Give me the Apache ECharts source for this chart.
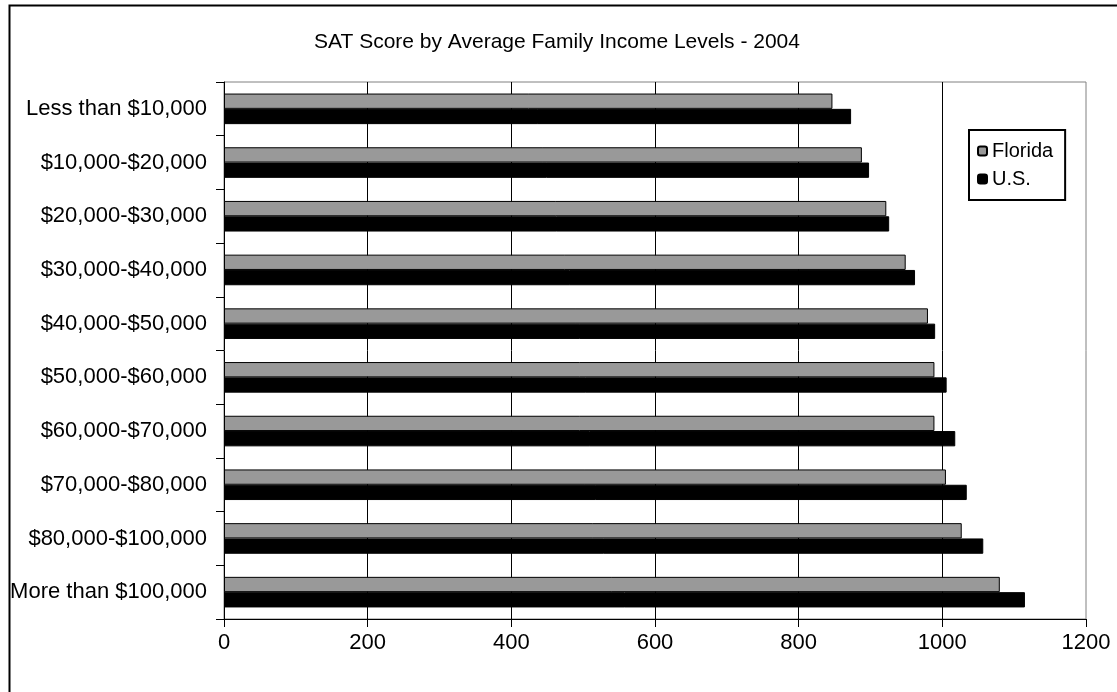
<!DOCTYPE html>
<html>
<head>
<meta charset="utf-8">
<script src="https://cdn.jsdelivr.net/npm/echarts@6/dist/echarts.min.js"></script>
<style>
html,body{margin:0;padding:0;background:#fff;}
#chart{width:1117px;height:692px;}
</style>
</head>
<body>
<div id="chart"></div>
<script>
const categories = ["Less than $10,000","$10,000-$20,000","$20,000-$30,000","$30,000-$40,000","$40,000-$50,000","$50,000-$60,000","$60,000-$70,000","$70,000-$80,000","$80,000-$100,000","More than $100,000"];
const florida = [847, 888, 922, 949, 980, 989, 989, 1005, 1027, 1080];
const us = [873, 898, 926, 962, 990, 1006, 1018, 1034, 1057, 1115];
const xTicks = [0, 200, 400, 600, 800, 1000, 1200];
const titleText = "SAT Score by Average Family Income Levels - 2004";

const FONT = 'Arial, "Liberation Sans", sans-serif';
const chart = echarts.init(document.getElementById('chart'), null, {renderer: 'canvas'});
chart.setOption({
  animation: false,
  backgroundColor: '#fff',
  title: {
    text: titleText,
    left: 557, top: 32, textAlign: 'center', padding: 0,
    textStyle: {fontFamily: FONT, fontSize: 21, fontWeight: 'normal', color: '#000'}
  },
  graphic: [{
    type: 'rect', left: 7, top: 3, silent: true,
    shape: {x: 0, y: 0, width: 1130, height: 710},
    style: {fill: 'none', stroke: '#000', lineWidth: 2}
  }],
  legend: {
    orient: 'vertical', left: 969, top: 130,
    borderColor: '#000', borderWidth: 2,
    padding: [11, 12, 11, 8],
    itemGap: 8, itemWidth: 9, itemHeight: 9,
    textStyle: {fontFamily: FONT, fontSize: 20, color: '#000', lineHeight: 20},
    data: ['Florida', 'U.S.']
  },
  grid: {left: 224, right: 31, top: 82, bottom: 73, show: true, borderColor: '#808080', borderWidth: 1},
  xAxis: {
    type: 'value', min: xTicks[0], max: xTicks[xTicks.length - 1], interval: 200,
    axisLine: {show: true, lineStyle: {color: '#000', width: 1}},
    axisTick: {show: true, length: 8, inside: false, lineStyle: {color: '#000'}},
    axisLabel: {fontFamily: FONT, fontSize: 22, color: '#000', margin: 13, formatter: v => String(v)},
    splitLine: {show: true, showMinLine: false, showMaxLine: false, lineStyle: {color: '#000', width: 1}}
  },
  yAxis: {
    type: 'category', data: categories, inverse: true,
    axisLine: {show: true, lineStyle: {color: '#000', width: 1}},
    axisTick: {show: true, length: 8, inside: false, lineStyle: {color: '#000'}},
    axisLabel: {fontFamily: FONT, fontSize: 22, color: '#000', margin: 17},
    splitLine: {show: false}
  },
  series: [
    {name: 'Florida', type: 'bar', data: florida, barWidth: 15.3, barGap: '0%',
     itemStyle: {color: '#999999', borderColor: '#000', borderWidth: 1}},
    {name: 'U.S.', type: 'bar', data: us, barWidth: 15.3, barGap: '0%',
     itemStyle: {color: '#000', borderColor: '#000', borderWidth: 1}}
  ]
});
</script>
</body>
</html>
